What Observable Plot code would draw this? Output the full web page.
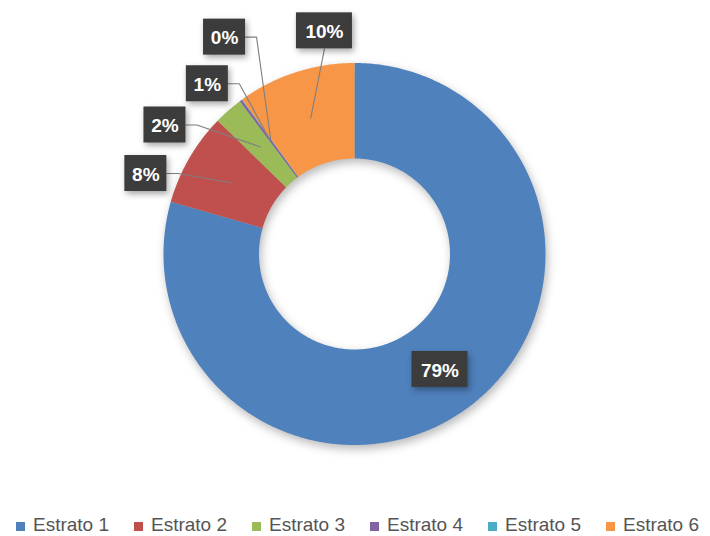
<!DOCTYPE html>
<html>
<head>
<meta charset="utf-8">
<script src="https://cdn.jsdelivr.net/npm/d3@7"></script>
<script src="https://cdn.jsdelivr.net/npm/@observablehq/plot@0.6"></script>
<style>
  body { margin: 0; background: #fff; font-family: "Liberation Sans", Arial, sans-serif; }
  #chart { width: 710px; height: 536px; overflow: hidden; position: relative; }
  #chart svg g[aria-label="area"] { filter: drop-shadow(2px 4px 5px rgba(0,0,0,0.28)); }
  #chart svg g[aria-label="rect"] { filter: drop-shadow(2px 3px 3px rgba(0,0,0,0.35)); }
  .legend { position: relative; width: 710px; height: 31px; }
  .legend .sw { position: absolute; top: 17px; width: 9px; height: 9px; }
  .legend .lb { position: absolute; top: 10px; font-size: 19px; line-height: 19px; color: #555; white-space: nowrap; }
</style>
</head>
<body>
<div id="chart"></div>
<script>
// ---- data ----
const categories = ["Estrato 1", "Estrato 2", "Estrato 3", "Estrato 4", "Estrato 5", "Estrato 6"];
const values = [79.4, 7.9, 2.45, 0.2, 0.05, 10.0];
const pctLabels = ["79%", "8%", "2%", "1%", "0%", "10%"];
const colors = ["#4F81BD", "#C0504D", "#9BBB59", "#8064A2", "#4BACC6", "#F79646"];

// ---- layout (label box centres, in units of the outer radius) ----
const labelX = [0.445, -1.095, -0.995, -0.773, -0.683, -0.160];
const labelY = [-0.602, 0.424, 0.678, 0.894, 1.138, 1.171];
const leaderFrom = ["none", "right", "right", "right", "right", "bottom"];

const W = 710, H = 505;
const R = 191, cx = 354.5, cy = 254;   // pixel geometry of the doughnut
const hole = 0.5;

const pie = d3.pie().sort(null).value(d => d)(values);

// annular sectors as areas between outer and inner arcs
const arcRows = [];
pie.forEach((p, i) => {
  const a0 = p.startAngle, a1 = p.endAngle;
  const n = Math.max(2, Math.ceil((a1 - a0) / 0.01));
  for (let j = 0; j <= n; j++) {
    const a = a0 + (a1 - a0) * j / n;
    arcRows.push({cat: categories[i], x1: Math.sin(a), y1: Math.cos(a), x2: hole * Math.sin(a), y2: hole * Math.cos(a)});
  }
});

// label boxes
const boxH = 36 / R;
const labelRows = pie.map((p, i) => {
  const w = (pctLabels[i].length >= 3 ? 56 : 42) / R;
  return {cat: categories[i], text: pctLabels[i], x: labelX[i], y: labelY[i],
          x1: labelX[i] - w / 2, x2: labelX[i] + w / 2, y1: labelY[i] - boxH / 2, y2: labelY[i] + boxH / 2, w};
});

// leader lines: from box edge to the slice's mid-angle at mid-ring radius
const leaderRows = [];
pie.forEach((p, i) => {
  if (leaderFrom[i] === "none") return;
  const m = (p.startAngle + p.endAngle) / 2, rr = (1 + hole) / 2;
  const ex = rr * Math.sin(m), ey = rr * Math.cos(m);
  const L = labelRows[i];
  if (leaderFrom[i] === "right") {
    const sx = L.x2, sy = L.y;
    leaderRows.push({cat: categories[i], x: sx, y: sy});
    leaderRows.push({cat: categories[i], x: sx + 11 / R, y: sy});
  } else {
    leaderRows.push({cat: categories[i], x: L.x, y: L.y1});
  }
  leaderRows.push({cat: categories[i], x: ex, y: ey});
});

const chart = Plot.plot({
  width: W,
  height: H,
  marginLeft: cx - R,
  marginRight: W - (cx + R),
  marginTop: cy - R,
  marginBottom: H - (cy + R),
  x: {domain: [-1, 1], axis: null},
  y: {domain: [-1, 1], axis: null},
  color: {domain: categories, range: colors},
  style: {background: "white", overflow: "visible"},
  marks: [
    Plot.area(arcRows, {x1: "x1", y1: "y1", x2: "x2", y2: "y2", z: "cat", fill: "cat", curve: "linear"}),
    Plot.line(leaderRows, {x: "x", y: "y", z: "cat", stroke: "#7f7f7f", strokeWidth: 1.1, curve: "linear"}),
    Plot.rect(labelRows, {x1: "x1", x2: "x2", y1: "y1", y2: "y2", fill: "#3c3c3c"}),
    Plot.text(labelRows, {x: "x", y: "y", text: "text", fill: "white", fontSize: 19, fontWeight: "bold",
                          fontFamily: "Liberation Sans, Arial, sans-serif", dy: 1})
  ]
});

const host = document.getElementById("chart");
host.appendChild(chart);

// legend
const legend = document.createElement("div");
legend.className = "legend";
categories.forEach((c, i) => {
  const left = 16 + 118 * i;
  const sw = document.createElement("span");
  sw.className = "sw"; sw.style.left = left + "px"; sw.style.background = colors[i];
  const lb = document.createElement("span");
  lb.className = "lb"; lb.style.left = (left + 17) + "px"; lb.textContent = c;
  legend.appendChild(sw); legend.appendChild(lb);
});
host.appendChild(legend);
</script>
</body>
</html>
